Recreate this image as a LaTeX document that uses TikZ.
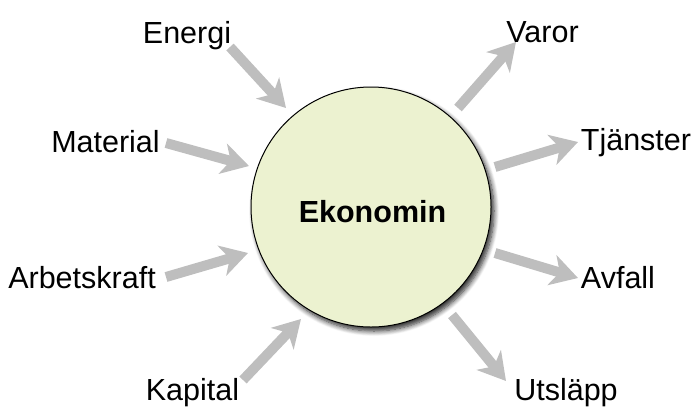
\documentclass[tikz,border=0pt]{standalone}
\usepackage{fontspec}
\setmainfont{Liberation Sans}
\usetikzlibrary{arrows.meta,shadows.blur}
\definecolor{arrowgray}{RGB}{190,190,190}
\definecolor{ecofill}{RGB}{236,242,208}
\tikzset{
  flow/.style={draw=arrowgray, line width=10pt,
    -{Stealth[length=27pt,width=31pt,inset=8pt]}},
  lbl/.style={anchor=base, inner sep=0pt, font=\fontsize{30.5}{33}\selectfont},
}
\begin{document}
\begin{tikzpicture}[x=1pt,y=-1pt]
\useasboundingbox (0,0) rectangle (695,410);
\node[circle, draw=black, line width=1pt, fill=ecofill, minimum size=240pt,
  blur shadow={shadow xshift=3pt, shadow yshift=-4pt, shadow blur steps=8, shadow blur radius=5pt, shadow opacity=85}]
  (eco) at (371,207) {};
\node[inner sep=0pt, anchor=base, font=\fontsize{30.5}{33}\selectfont\bfseries] (ekt) at (372.5,222) {Ekonomin};
% labels
\node[lbl] (energi) at (187,43) {Energi};
\node[lbl] (material) at (105.5,152) {Material};
\node[lbl] (arbets) at (82,288) {Arbetskraft};
\node[lbl] (kapital) at (192.5,400) {Kapital};
\node[lbl] (varor) at (542.5,42) {Varor};
\node[lbl] (tjanster) at (636,150) {Tjänster};
\node[lbl] (avfall) at (618,288) {Avfall};
\node[lbl] (utslapp) at (566,400) {Utsläpp};
% arrow ends
\coordinate (e1) at (230,47);  \coordinate (e2) at (286,108);
\coordinate (m1) at (166,143); \coordinate (m2) at (249,166);
\coordinate (a1) at (166,277); \coordinate (a2) at (248,253);
\coordinate (k1) at (243,380); \coordinate (k2) at (301,319);
\coordinate (v1) at (458,108); \coordinate (v2) at (516,42);
\coordinate (t1) at (495,167); \coordinate (t2) at (578,142);
\coordinate (f1) at (495,253); \coordinate (f2) at (578,278);
\coordinate (u1) at (452,315); \coordinate (u2) at (506,381);
\draw[flow] (e1) -- (e2);
\draw[flow] (m1) -- (m2);
\draw[flow] (a1) -- (a2);
\draw[flow] (k1) -- (k2);
\draw[flow] (v1) -- (v2);
\draw[flow] (t1) -- (t2);
\draw[flow] (f1) -- (f2);
\draw[flow] (u1) -- (u2);
\end{tikzpicture}
\end{document}
